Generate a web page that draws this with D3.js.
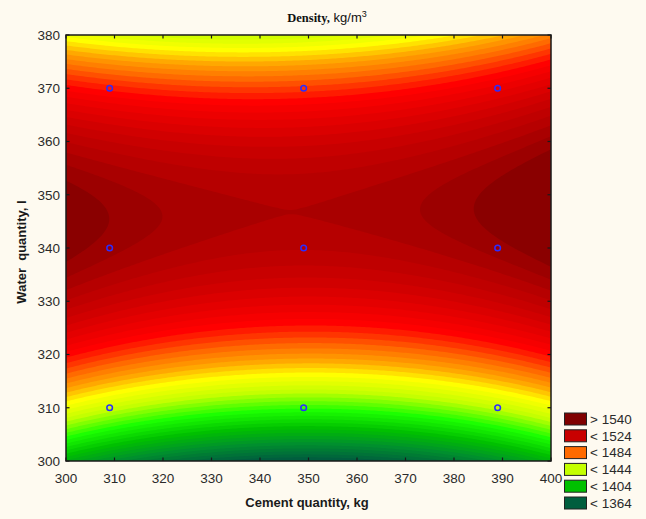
<!DOCTYPE html>
<html><head><meta charset="utf-8">
<script src="https://cdn.jsdelivr.net/npm/d3@7"></script>
<style>html,body{margin:0;padding:0;background:#fefaf0;} svg{display:block}</style>
</head><body>
<svg id="chart" width="646" height="519"></svg>
<script>
// ---- data ----
const cementLevels = [309, 349, 389];          // design points, kg
const waterLevels  = [310, 340, 370];          // design points, l
// density at design points: rows = water level, cols = cement level
const densityW310 = [1444.5, 1425.0, 1442.6];
const densityW340 = [1537.7, 1528.4, 1538.3];
const densityW370 = [1494.3, 1489.5, 1506.0];
const xTicks = [300, 310, 320, 330, 340, 350, 360, 370, 380, 390, 400];
const yTicks = [300, 310, 320, 330, 340, 350, 360, 370, 380];
const legendLevels = [1540, 1524, 1484, 1444, 1404, 1364];
const legendLabels = ["> 1540", "< 1524", "< 1484", "< 1444", "< 1404", "< 1364"];
const contourLevels = d3.range(1364, 1541, 4);

// ---- layout ----
const svg = d3.select("#chart");
const W = 646, H = 519;
const plot = {x0: 66, x1: 551, y0: 35, y1: 461};
const xs = d3.scaleLinear().domain([300, 400]).range([plot.x0, plot.x1]);
const ys = d3.scaleLinear().domain([300, 380]).range([plot.y1, plot.y0]);

svg.append("rect").attr("width", W).attr("height", H).attr("fill", "#fefaf0");

const ramp = d3.scaleLinear()
  .domain([1362, 1382, 1402, 1422, 1442, 1458, 1470, 1482, 1498, 1510, 1522, 1530, 1538, 1542])
  .range(["#005e3e", "#008f2e", "#00c000", "#1cff00", "#c4ff00", "#ffff00", "#ffa800", "#ff6a00",
          "#ff0000", "#e40000", "#c80000", "#b60000", "#9c0000", "#8a0000"])
  .interpolate(d3.interpolateRgb).clamp(true);

// quadratic response surface through the 3x3 design
function lag3(nodes, vals, v) {
  const [a, b, c] = nodes;
  return vals[0] * (v - b) * (v - c) / ((a - b) * (a - c)) +
         vals[1] * (v - a) * (v - c) / ((b - a) * (b - c)) +
         vals[2] * (v - a) * (v - b) / ((c - a) * (c - b));
}
const rows = [densityW310, densityW340, densityW370];
function surface(c, w) {
  const r = rows.map(row => lag3(cementLevels, row, c));
  return lag3(waterLevels, r, w);
}

const st = 0.5, C0 = 299, Ctop = 401, Wtop = 381, Wbot = 299;
const nx = Math.round((Ctop - C0) / st) + 1, ny = Math.round((Wtop - Wbot) / st) + 1;
const grid = new Float64Array(nx * ny);
for (let j = 0; j < ny; j++) for (let i = 0; i < nx; i++)
  grid[j * nx + i] = surface(C0 + i * st, Wtop - j * st);

const proj = d3.geoTransform({
  point(x, y) { this.stream.point(xs(C0 + (x - 0.5) * st), ys(Wtop - (y - 0.5) * st)); }
});
const path = d3.geoPath(proj);

svg.append("defs").append("clipPath").attr("id", "clip")
  .append("rect").attr("x", plot.x0).attr("y", plot.y0)
  .attr("width", plot.x1 - plot.x0).attr("height", plot.y1 - plot.y0);

const gS = svg.append("g").attr("clip-path", "url(#clip)");
gS.append("rect").attr("x", plot.x0).attr("y", plot.y0)
  .attr("width", plot.x1 - plot.x0).attr("height", plot.y1 - plot.y0)
  .attr("fill", ramp(1362));
const contours = d3.contours().size([nx, ny]).thresholds(contourLevels)(grid);
gS.selectAll("path").data(contours).join("path")
  .attr("d", path)
  .attr("fill", d => ramp(d.value + 2))
  .attr("stroke", "none");

// design points
const pts = [];
waterLevels.forEach(w => cementLevels.forEach(c => pts.push([c, w])));
svg.append("g").selectAll("circle").data(pts).join("circle")
  .attr("cx", d => xs(d[0])).attr("cy", d => ys(d[1])).attr("r", 2.8)
  .attr("fill", "none").attr("stroke", "#2c2cff").attr("stroke-width", 1.5);

// frame and inside ticks
const tick = 3.5;
const gT = svg.append("g").attr("stroke", "#1a1a1a").attr("stroke-width", 1.2);
xTicks.forEach(v => {
  gT.append("line").attr("x1", xs(v)).attr("x2", xs(v)).attr("y1", plot.y1).attr("y2", plot.y1 - tick);
  gT.append("line").attr("x1", xs(v)).attr("x2", xs(v)).attr("y1", plot.y0).attr("y2", plot.y0 + tick);
});
yTicks.forEach(v => {
  gT.append("line").attr("y1", ys(v)).attr("y2", ys(v)).attr("x1", plot.x0).attr("x2", plot.x0 + tick);
  gT.append("line").attr("y1", ys(v)).attr("y2", ys(v)).attr("x1", plot.x1).attr("x2", plot.x1 - tick);
});
svg.append("rect").attr("x", plot.x0).attr("y", plot.y0)
  .attr("width", plot.x1 - plot.x0).attr("height", plot.y1 - plot.y0)
  .attr("fill", "none").attr("stroke", "#1a1a1a").attr("stroke-width", 1.5);

// tick labels
const font = "'Liberation Sans', Arial, sans-serif";
svg.append("g").selectAll("text").data(xTicks).join("text")
  .attr("x", d => xs(d)).attr("y", 483).attr("text-anchor", "middle")
  .attr("font-family", font).attr("font-size", 13.5).attr("fill", "#2a2a2a").text(d => d);
svg.append("g").selectAll("text").data(yTicks).join("text")
  .attr("x", 60).attr("y", d => ys(d)).attr("dy", "0.36em").attr("text-anchor", "end")
  .attr("font-family", font).attr("font-size", 13.5).attr("fill", "#2a2a2a").text(d => d);

// axis titles
svg.append("text").attr("x", 307).attr("y", 507).attr("text-anchor", "middle")
  .attr("font-family", font).attr("font-size", 13).attr("font-weight", "bold").attr("fill", "#1a1a1a")
  .text("Cement quantity, kg");
svg.append("text").attr("transform", "translate(26,252) rotate(-90)").attr("text-anchor", "middle")
  .attr("font-family", font).attr("font-size", 13).attr("font-weight", "bold").attr("fill", "#1a1a1a")
  .attr("xml:space", "preserve").style("white-space", "pre")
  .text("Water  quantity, l");

// title
const tt = svg.append("text").attr("x", 327).attr("y", 22).attr("text-anchor", "middle").attr("fill", "#111");
tt.append("tspan").attr("font-family", "'Liberation Serif', 'Times New Roman', serif").attr("font-weight", "bold").attr("font-size", 12.5).text("Density,");
tt.append("tspan").attr("font-family", font).attr("font-size", 13).text(" kg/m");
tt.append("tspan").attr("font-family", font).attr("font-size", 9).attr("dy", -5).text("3");

// legend
const lg = svg.append("g");
legendLevels.forEach((lv, i) => {
  const y = 413 + i * 16.8;
  lg.append("rect").attr("x", 564.5).attr("y", y).attr("width", 22).attr("height", 12)
    .attr("fill", i === 0 ? "#800000" : ramp(lv - 2)).attr("stroke", "#222").attr("stroke-width", 1);
  lg.append("text").attr("x", 590).attr("y", y + 6).attr("dy", "0.36em")
    .attr("font-family", font).attr("font-size", 13.5).attr("fill", "#2a2a2a").text(legendLabels[i]);
});
</script>
</body></html>
